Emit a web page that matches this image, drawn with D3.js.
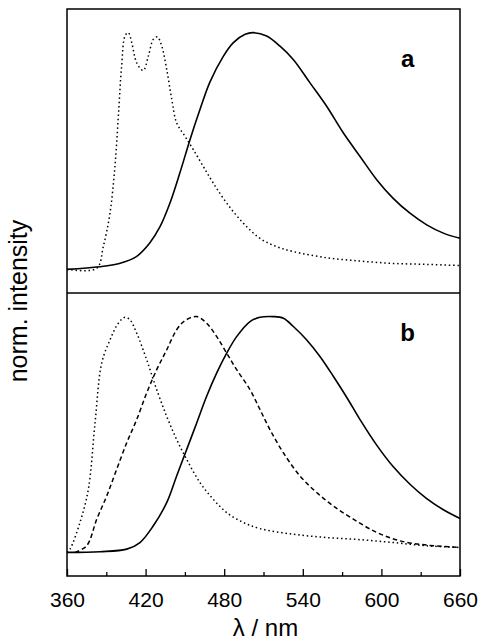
<!DOCTYPE html>
<html>
<head>
<meta charset="utf-8">
<script src="https://cdn.jsdelivr.net/npm/d3@7"></script>
<style>
  body { margin: 0; background: #fff; }
  svg { display: block; font-family: "Liberation Sans", Arial, sans-serif; }
</style>
</head>
<body>
<div id="chart"></div>
<script>
// 波长刻度
var xTicks = [360, 420, 480, 540, 600, 660];
var xMinorTicks = [390, 450, 510, 570, 630];

// panel a: 实线 (emission) [nm, norm. intensity]
var aSolid = [
  [360, 0.0], [385, 0.011], [400, 0.025], [413, 0.054], [423, 0.11], [431, 0.18],
  [438.6, 0.28], [446.3, 0.41], [454, 0.55], [461.5, 0.675], [469, 0.79], [479.3, 0.90],
  [487, 0.958], [496, 0.993], [502, 1.0], [512.4, 0.986], [522.6, 0.943], [532.7, 0.887],
  [545.5, 0.788], [558.2, 0.689], [571, 0.576], [583.7, 0.477], [596.4, 0.379], [609, 0.30],
  [621.8, 0.237], [634.6, 0.188], [647.3, 0.153], [660, 0.131]
];

// panel a: 点线
var aDotted = [
  [360, 0.0], [382.6, 0.004], [387.7, 0.096], [392.8, 0.237], [396.6, 0.435], [399.2, 0.647],
  [401.7, 0.859], [404.3, 0.986], [406.8, 1.0], [409.4, 0.958], [413.2, 0.873], [418.2, 0.840],
  [422.1, 0.901], [425.9, 0.972], [429, 0.982], [432.3, 0.944], [436.1, 0.845], [440, 0.718],
  [443.7, 0.619], [450.1, 0.562], [456.4, 0.506], [464, 0.435], [471.7, 0.364], [481.9, 0.280],
  [494.6, 0.195], [507.3, 0.131], [520, 0.096], [532.8, 0.075], [558.2, 0.049], [583.7, 0.035],
  [609, 0.025], [634.6, 0.021], [660, 0.016]
];

// panel b: 实线
var bSolid = [
  [360, 0.0], [385.2, 0.003], [405.6, 0.014], [415.7, 0.042], [425.9, 0.113], [436.1, 0.211],
  [443.7, 0.324], [451.4, 0.437], [459, 0.549], [466.6, 0.662], [474.3, 0.761], [481.9, 0.845],
  [489.5, 0.915], [499.7, 0.979], [507.3, 0.997], [517.5, 1.0], [525.2, 0.993], [532.8, 0.958],
  [543, 0.901], [553.1, 0.831], [563.4, 0.746], [573.6, 0.657], [583.7, 0.563], [596.4, 0.455],
  [609.1, 0.363], [621.8, 0.289], [634.6, 0.228], [647.3, 0.181], [660, 0.144]
];

// panel b: 点线
var bDotted = [
  [360, 0.0], [362.3, 0.014], [369.9, 0.127], [376.3, 0.268], [381.4, 0.549], [386.5, 0.803],
  [392.8, 0.901], [399.2, 0.972], [404.3, 0.997], [408.1, 0.986], [413.2, 0.930], [420.8, 0.817],
  [428.5, 0.690], [436.1, 0.577], [443.7, 0.479], [451.4, 0.394], [461.5, 0.296], [471.7, 0.225],
  [481.9, 0.169], [494.6, 0.127], [507.3, 0.101], [532.8, 0.077], [558.2, 0.063], [583.7, 0.054],
  [609, 0.042], [634.6, 0.028], [660, 0.021]
];

// panel b: 虚线
var bDashed = [
  [366.1, 0.0], [375, 0.028], [382.7, 0.141], [390.3, 0.239], [397.9, 0.352], [405.6, 0.465],
  [413.2, 0.563], [420.8, 0.676], [428.5, 0.775], [436.1, 0.859], [443.7, 0.944], [450.1, 0.983],
  [459, 1.0], [466.6, 0.972], [474.3, 0.915], [481.9, 0.845], [489.5, 0.775], [499.7, 0.690],
  [507.3, 0.606], [514.9, 0.521], [525.1, 0.423], [537.9, 0.324], [550.6, 0.254], [563.3, 0.197],
  [578.6, 0.141], [596.4, 0.085], [614.2, 0.049], [634.6, 0.031], [660, 0.021]
];

var width = 480,
    height = 640;
var plotL = 67, plotR = 460, plotT = 9, plotM = 293, plotB = 576;

var svg = d3.select("#chart").append("svg")
    .attr("width", width)
    .attr("height", height);

var x = d3.scaleLinear().domain([360, 660]).range([plotL, plotR]);
var yA = d3.scaleLinear().domain([-0.1, 1.1]).range([plotM, plotT]);
var yB = d3.scaleLinear().domain([-0.1, 1.1]).range([plotB, plotM]);

// 画曲线
function drawLine(data, y, dash, w) {
    var line = d3.line()
        .x(function (d) { return x(d[0]); })
        .y(function (d) { return y(d[1]); })
        .curve(d3.curveCatmullRom.alpha(0.5));
    svg.append("path")
        .datum(data)
        .attr("d", line)
        .attr("fill", "none")
        .attr("stroke", "#000")
        .attr("stroke-width", w)
        .attr("stroke-dasharray", dash);
}

drawLine(aDotted, yA, "1.5,2.8", 1.5);
drawLine(aSolid, yA, null, 1.6);
drawLine(bDotted, yB, "1.5,2.8", 1.5);
drawLine(bDashed, yB, "4.5,3", 1.5);
drawLine(bSolid, yB, null, 1.6);

// 边框
svg.append("rect")
    .attr("x", plotL).attr("y", plotT)
    .attr("width", plotR - plotL).attr("height", plotB - plotT)
    .attr("fill", "none").attr("stroke", "#000").attr("stroke-width", 1.5);
svg.append("line")
    .attr("x1", plotL).attr("x2", plotR)
    .attr("y1", plotM).attr("y2", plotM)
    .attr("stroke", "#000").attr("stroke-width", 1.5);

// x 轴 (刻度朝内)
var xAxis = svg.append("g")
    .attr("transform", "translate(0," + plotB + ")")
    .call(d3.axisBottom(x).tickValues(xTicks).tickSize(-7).tickPadding(16).tickFormat(d3.format("d")));
xAxis.select(".domain").remove();
xAxis.attr("font-size", 21).attr("font-family", "Liberation Sans, Arial, sans-serif");
xAxis.selectAll("text").attr("fill", "#000");
xAxis.selectAll("line").attr("stroke-width", 1.3);

var xMinor = svg.append("g")
    .attr("transform", "translate(0," + plotB + ")")
    .call(d3.axisBottom(x).tickValues(xMinorTicks).tickSize(-4).tickFormat(""));
xMinor.select(".domain").remove();
xMinor.selectAll("line").attr("stroke-width", 1.3);

// 轴标题
svg.append("text")
    .attr("x", (plotL + plotR) / 2 + 2)
    .attr("y", 636)
    .attr("text-anchor", "middle")
    .attr("font-size", 24)
    .text("λ / nm");

svg.append("text")
    .attr("transform", "translate(27,301) rotate(-90)")
    .attr("text-anchor", "middle")
    .attr("font-size", 25)
    .text("norm. intensity");

// panel 标签
svg.append("text")
    .attr("x", x(620)).attr("y", yA(0.855))
    .attr("text-anchor", "middle")
    .attr("font-size", 24).attr("font-weight", "bold")
    .text("a");
svg.append("text")
    .attr("x", x(620)).attr("y", yB(0.897))
    .attr("text-anchor", "middle")
    .attr("font-size", 24).attr("font-weight", "bold")
    .text("b");
</script>
</body>
</html>
